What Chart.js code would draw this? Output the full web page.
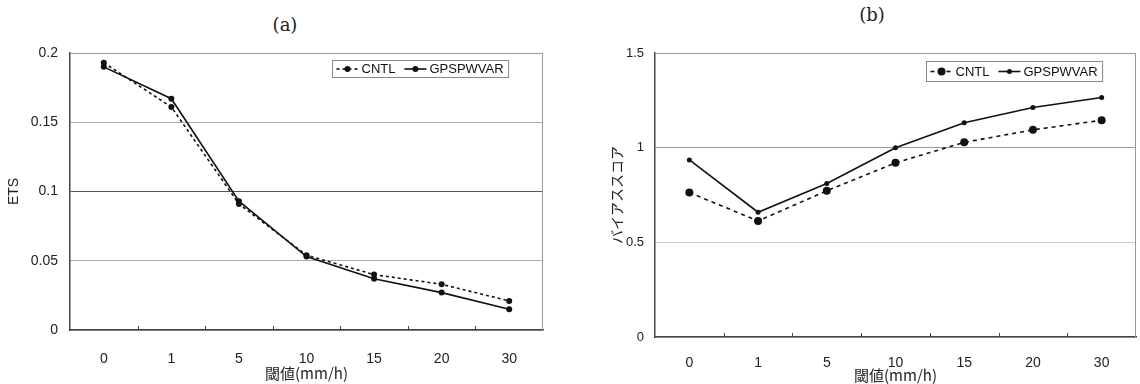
<!DOCTYPE html>
<html lang="ja">
<head>
  <meta charset="UTF-8">
  <title>ETS / バイアススコア</title>
  <style>
    body {
      margin: 0;
      background: white;
      width: 1140px;
      height: 384px;
      position: relative;
      overflow: hidden;
    }
    .panel {
      position: absolute;
      top: 0;
    }
    .label {
      position: absolute;
      font-family: "DejaVu Serif", "Liberation Serif", serif;
      font-size: 18px;
      line-height: 20px;
      color: #222;
      width: 60px;
      text-align: center;
    }
  </style>
</head>
<body>
  <div class="label" style="left: 255px; top: 15px;">(a)</div>
  <div class="label" style="left: 842px; top: 5px;">(b)</div>
  <canvas id="chartA" class="panel" style="left: 0px;" width="560" height="384"></canvas>
  <canvas id="chartB" class="panel" style="left: 570px;" width="570" height="384"></canvas>

  <script src="https://cdn.jsdelivr.net/npm/chart.js"></script>
  <script>
    // thresholds (mm/h)
    const categories = ['0', '1', '5', '10', '15', '20', '30'];

    // (a) ETS
    const etsCntl = [0.193, 0.161, 0.091, 0.054, 0.040, 0.033, 0.021];
    const etsGps  = [0.190, 0.167, 0.093, 0.053, 0.037, 0.027, 0.015];
    const etsTicks = [0, 0.05, 0.1, 0.15, 0.2];

    // (b) bias score
    const biasCntl = [0.763, 0.613, 0.772, 0.920, 1.028, 1.094, 1.145];
    const biasGps  = [0.935, 0.659, 0.811, 1.000, 1.132, 1.212, 1.265];
    const biasTicks = [0, 0.5, 1, 1.5];

    const seriesNames = ['CNTL', 'GPSPWVAR'];
    const axisFont = '"Liberation Sans", Arial, sans-serif';
    const jpFont = '"Noto Sans CJK JP", "Noto Sans", sans-serif';

    // small tick marks between categories, drawn inside the plot area,
    // plus the grey top/right frame
    const frame = {
      id: 'frame',
      beforeDatasetsDraw(chart) {
        const ctx = chart.ctx;
        const a = chart.chartArea;
        const x = chart.scales.x;
        ctx.save();
        ctx.strokeStyle = '#999';
        ctx.lineWidth = 1;
        ctx.beginPath();
        ctx.moveTo(a.left, a.top + 0.5);
        ctx.lineTo(a.right, a.top + 0.5);
        ctx.moveTo(a.right - 0.5, a.top);
        ctx.lineTo(a.right - 0.5, a.bottom);
        ctx.stroke();
        ctx.strokeStyle = '#444';
        ctx.beginPath();
        for (let i = 1; i < categories.length; i++) {
          const px = Math.round((x.getPixelForValue(i - 1) + x.getPixelForValue(i)) / 2) + 0.5;
          ctx.moveTo(px, a.bottom);
          ctx.lineTo(px, a.bottom - 4);
        }
        ctx.stroke();
        ctx.restore();
      }
    };

    // legend box inside the plot area, top right
    const boxLegend = {
      id: 'boxLegend',
      afterDraw(chart, args, opts) {
        const ctx = chart.ctx;
        const a = chart.chartArea;
        ctx.save();
        ctx.font = opts.fontSize + 'px ' + axisFont;
        const sample = 22;
        const items = chart.data.datasets.map(ds => ({
          ds: ds,
          w: sample + 4 + ctx.measureText(ds.label).width
        }));
        const gap = 8;
        const pad = 4;
        let width = pad * 2 + items.reduce((s, it) => s + it.w, 0) + gap * (items.length - 1);
        const left = Math.round(a.right - opts.right - width) + 0.5;
        const top = Math.round(a.top + opts.top) + 0.5;
        ctx.fillStyle = 'white';
        ctx.fillRect(left, top, width, opts.height);
        ctx.strokeStyle = '#888';
        ctx.lineWidth = 1;
        ctx.strokeRect(left, top, width, opts.height);

        const cy = top + opts.height / 2;
        let x = left + pad;
        items.forEach(it => {
          const ds = it.ds;
          ctx.strokeStyle = '#111';
          ctx.lineWidth = ds.borderWidth;
          ctx.setLineDash(ds.borderDash || []);
          ctx.beginPath();
          ctx.moveTo(x, cy);
          ctx.lineTo(x + sample, cy);
          ctx.stroke();
          ctx.setLineDash([]);
          ctx.fillStyle = '#111';
          ctx.beginPath();
          ctx.arc(x + sample / 2, cy, ds.pointRadius, 0, Math.PI * 2);
          ctx.fill();
          ctx.textBaseline = 'middle';
          ctx.textAlign = 'left';
          ctx.fillText(ds.label, x + sample + 3, cy + 0.5);
          x += it.w + gap;
        });
        ctx.restore();
      }
    };

    function makeChart(id, cfg) {
      const ctx = document.getElementById(id).getContext('2d');
      return new Chart(ctx, {
        type: 'line',
        data: {
          labels: categories,
          datasets: [
            {
              label: seriesNames[0],
              data: cfg.cntl,
              borderColor: '#111',
              backgroundColor: '#111',
              borderWidth: 1.6,
              borderDash: cfg.dash,
              pointRadius: cfg.cntlRadius,
              pointBorderWidth: 0,
              tension: 0
            },
            {
              label: seriesNames[1],
              data: cfg.gps,
              borderColor: '#111',
              backgroundColor: '#111',
              borderWidth: 1.6,
              pointRadius: cfg.gpsRadius,
              pointBorderWidth: 0,
              tension: 0
            }
          ]
        },
        options: {
          responsive: false,
          animation: false,
          layout: { padding: { left: 0, top: 53, right: cfg.padRight, bottom: 0 } },
          plugins: {
            legend: { display: false },
            tooltip: { enabled: false },
            boxLegend: cfg.legend
          },
          scales: {
            x: {
              offset: true,
              grid: { display: false },
              border: { display: true, color: '#444', width: 1.5 },
              ticks: { color: '#222', padding: cfg.xTickPad, font: { family: axisFont, size: 14 } },
              title: {
                display: true,
                text: '閾値(mm/h)',
                color: '#222',
                font: { family: jpFont, size: 15 },
                padding: { top: 0, bottom: cfg.xTitlePad }
              },
              afterFit: s => { s.height = cfg.xHeight; }
            },
            y: {
              min: cfg.ticks[0],
              max: cfg.ticks[cfg.ticks.length - 1],
              afterBuildTicks: s => { s.ticks = cfg.ticks.map(v => ({ value: v })); },
              grid: {
                drawTicks: false,
                lineWidth: 1,
                color: c => cfg.gridColor(c.tick ? c.tick.value : 0)
              },
              border: { display: true, color: '#444', width: 1.5 },
              ticks: {
                color: '#222',
                padding: cfg.yTickPad,
                font: { family: axisFont, size: cfg.yTickSize },
                callback: v => String(v)
              },
              title: {
                display: true,
                text: cfg.yTitle,
                color: '#222',
                font: { family: cfg.yTitleFont, size: 14 },
                padding: { top: cfg.yTitlePad, bottom: 0 }
              },
              afterFit: s => { s.width = cfg.yWidth; }
            }
          }
        },
        plugins: [frame, boxLegend]
      });
    }

    makeChart('chartA', {
      cntl: etsCntl,
      gps: etsGps,
      ticks: etsTicks,
      dash: [3, 3],
      cntlRadius: 3,
      gpsRadius: 3,
      padRight: 17,
      xHeight: 54,
      yWidth: 70,
      xTickPad: 13,
      yTickPad: 12,
      yTickSize: 14,
      xTitlePad: 2,
      yTitle: 'ETS',
      yTitleFont: axisFont,
      yTitlePad: 6,
      gridColor: v => (v === 0.1 ? '#555' : '#aaa'),
      legend: { right: 35, top: 7, height: 17, fontSize: 13 }
    });

    makeChart('chartB', {
      cntl: biasCntl,
      gps: biasGps,
      ticks: biasTicks,
      dash: [4, 4],
      cntlRadius: 4,
      gpsRadius: 2.5,
      padRight: 1,
      xHeight: 47,
      yWidth: 85,
      xTickPad: 10,
      yTickPad: 11,
      yTickSize: 13,
      xTitlePad: 0,
      yTitle: 'バイアススコア',
      yTitleFont: jpFont,
      yTitlePad: 38,
      gridColor: v => (v === 1 ? '#999' : '#ccc'),
      legend: { right: 34, top: 8, height: 20, fontSize: 13 }
    });
  </script>
</body>
</html>
